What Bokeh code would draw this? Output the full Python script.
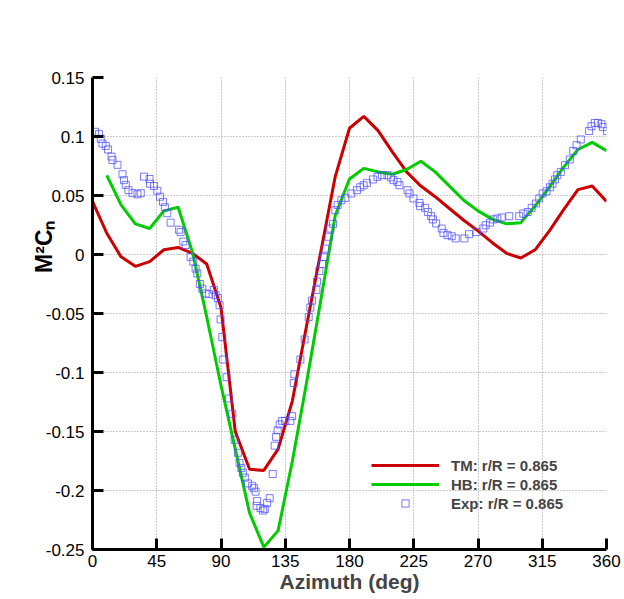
import math
from bokeh.plotting import figure
from bokeh.models import FixedTicker, Title
from bokeh.embed import file_html
from bokeh.resources import INLINE

# ---- data ----
tm_azimuth = [0, 10, 20, 30, 40, 50, 60, 70, 80, 90, 100, 110, 120, 130, 140, 150, 160, 170, 180,
              190, 200, 210, 220, 230, 240, 250, 260, 270, 280, 290, 300, 310, 320, 330, 340, 350, 360]
tm_m2cn = [0.045, 0.018, -0.002, -0.010, -0.006, 0.004, 0.006, 0.001, -0.008, -0.045, -0.150,
           -0.182, -0.183, -0.165, -0.124, -0.060, 0.003, 0.066, 0.107, 0.117, 0.105, 0.087, 0.070,
           0.058, 0.049, 0.039, 0.029, 0.020, 0.010, 0.001, -0.003, 0.004, 0.020, 0.038, 0.055,
           0.058, 0.045]

hb_azimuth = [10, 20, 30, 40, 50, 60, 70, 80, 90, 100, 110, 120, 130, 140, 150, 160, 170, 180,
              190, 200, 210, 220, 230, 240, 250, 260, 270, 280, 290, 300, 310, 320, 330, 340, 350, 360]
hb_m2cn = [0.067, 0.042, 0.026, 0.022, 0.037, 0.040, 0.002, -0.053, -0.111, -0.165, -0.219,
           -0.248, -0.234, -0.175, -0.108, -0.038, 0.033, 0.064, 0.073, 0.070, 0.068, 0.072,
           0.079, 0.070, 0.058, 0.046, 0.037, 0.030, 0.026, 0.027, 0.041, 0.057, 0.074, 0.089,
           0.095, 0.088]

exp_azimuth = [1.8, 4.6, 5.8, 7.0, 9.3, 10.9, 13.3, 14.0, 17.5, 21.0, 22.1, 23.3, 25.2, 28.0, 31.5,
               33.8, 36.1, 40.0, 40.3, 43.1, 45.4, 47.3, 49.4, 50.7, 52.4, 54.7, 60.5, 61.7, 63.6,
               65.2, 68.7, 70.6, 72.2, 73.4, 75.2, 76.9, 79.2, 81.5, 85.0, 86.2, 87.8, 89.0, 89.7,
               90.9, 91.6, 93.9, 95.5, 97.9, 99.5, 101.8, 103.0, 104.2, 105.3, 106.7, 108.8,
               111.8, 113.0, 114.2, 115.3, 114.9, 117.6, 119.5, 120.7, 122.3, 124.1, 126.2, 127.6,
               128.6, 129.7, 131.1, 132.8, 135.0, 138.6, 139.8, 141.0, 141.4, 145.6, 148.6, 151.4,
               152.6, 153.8, 156.8, 157.3, 158.9, 160.8, 161.9, 163.1, 165.4, 166.6, 168.5, 170.1,
               171.7, 174.3, 177.1, 181.3, 185.2, 187.5, 189.9, 192.2, 196.4, 199.6, 202.7, 206.6,
               209.0, 210.8, 213.6, 215.0, 220.6, 222.0, 224.8, 229.0, 229.5, 233.0, 234.9, 237.2,
               238.4, 240.7, 244.6, 245.8, 248.6, 251.6, 254.4, 260.5, 263.7, 269.1, 273.7, 275.4,
               278.4, 280.7, 283.5, 286.6, 291.9, 298.9, 301.7, 304.8, 307.6, 310.6, 312.9, 315.3,
               318.0, 320.4, 322.2, 323.9, 325.5, 328.0, 330.9, 334.3, 336.7, 339.0, 342.0, 347.8,
               349.5, 351.8, 354.1, 356.5, 357.6, 360.4]
exp_m2cn = [0.104, 0.102, 0.098, 0.094, 0.092, 0.089, 0.083, 0.080, 0.076, 0.068, 0.063, 0.059,
            0.0545, 0.052, 0.051, 0.052, 0.066, 0.064, 0.060, 0.058, 0.054, 0.049, 0.0446, 0.040,
            0.035, 0.027, 0.021, 0.019, 0.011, 0.008, -0.002, -0.006, -0.012, -0.016, -0.025,
            -0.029, -0.033, -0.0336, -0.030, -0.0345, -0.037, -0.043, -0.055, -0.070, -0.089,
            -0.104, -0.122, -0.135, -0.157, -0.168, -0.1766, -0.181, -0.185, -0.189, -0.194,
            -0.196, -0.198, -0.201, -0.209, -0.213, -0.215, -0.217, -0.2156, -0.2105, -0.2065,
            -0.186, -0.162, -0.1545, -0.149, -0.144, -0.141, -0.141, -0.141, -0.137, -0.109,
            -0.1015, -0.089, -0.072, -0.053, -0.045, -0.039, -0.030, -0.023, -0.014, -0.008,
            -0.002, 0.005, 0.015, 0.022, 0.026, 0.0375, 0.042, 0.046, 0.048, 0.0517, 0.0545,
            0.057, 0.0587, 0.0607, 0.0636, 0.0658, 0.0672, 0.0672, 0.0653, 0.063, 0.0615, 0.0587,
            0.0545, 0.0517, 0.0475, 0.0437, 0.041, 0.0395, 0.036, 0.0325, 0.0297, 0.0263, 0.022,
            0.0183, 0.0164, 0.0155, 0.0136, 0.0136, 0.0172, 0.019, 0.022, 0.0248, 0.027, 0.0297,
            0.0305, 0.0314, 0.0325, 0.0325, 0.0347, 0.036, 0.0395, 0.0432, 0.0475, 0.0517,
            0.0536, 0.057, 0.060, 0.0636, 0.0672, 0.070, 0.0757, 0.0805, 0.0878, 0.0926, 0.0975,
            0.1047, 0.1087, 0.1115, 0.1115, 0.1104, 0.108, 0.1045]

x_ticks = [0, 45, 90, 135, 180, 225, 270, 315, 360]
y_ticks = [-0.25, -0.2, -0.15, -0.1, -0.05, 0, 0.05, 0.1, 0.15]
y_tick_labels = ["-0.25", "-0.2", "-0.15", "-0.1", "-0.05", "0", "0.05", "0.1", "0.15"]

legend_tm = "TM: r/R = 0.865"
legend_hb = "HB: r/R = 0.865"
legend_exp = "Exp: r/R = 0.865"

FONT = "Liberation Sans"

p = figure(frame_width=514, frame_height=472, x_range=(0, 360), y_range=(-0.25, 0.15),
           output_backend="svg", toolbar_location=None,
           min_border_left=92, min_border_top=77, min_border_right=15, min_border_bottom=5)
p.outline_line_color = None
p.background_fill_color = "white"
p.border_fill_color = "white"

p.line(tm_azimuth, tm_m2cn, line_color="#cc0000", line_width=3, legend_label=legend_tm)
p.line(hb_azimuth, hb_m2cn, line_color="#00cc00", line_width=3, legend_label=legend_hb)
p.scatter(exp_azimuth, exp_m2cn, marker="square", size=7, fill_color=None,
          line_color="#4d4dff", line_alpha=0.75, line_width=1, legend_label=legend_exp)

for ax in (p.xaxis[0], p.yaxis[0]):
    ax.axis_line_width = 3
    ax.axis_line_color = "black"
    ax.major_tick_in = 11
    ax.major_tick_out = 0
    ax.minor_tick_in = 5
    ax.minor_tick_out = 0
    ax.major_tick_line_width = 3
    ax.minor_tick_line_width = 1.5
    ax.major_label_text_font = FONT
    ax.major_label_text_font_size = "17px"
    ax.major_label_text_color = "black"

p.xaxis.ticker = FixedTicker(ticks=x_ticks, num_minor_ticks=5)
p.yaxis.ticker = FixedTicker(ticks=y_ticks, num_minor_ticks=5)
p.yaxis.major_label_overrides = {v: s for v, s in zip(y_ticks, y_tick_labels)}
p.xaxis.major_label_standoff = 5
p.yaxis.major_label_standoff = 8

p.xaxis.axis_label = "Azimuth (deg)"
p.xaxis.axis_label_text_font = FONT
p.xaxis.axis_label_text_font_style = "bold"
p.xaxis.axis_label_text_font_size = "21px"
p.xaxis.axis_label_standoff = 0

ytitle = Title(text="M²Cₙ", align="right", vertical_align="bottom", offset=143, standoff=-28,
               text_font=FONT, text_font_style="bold", text_font_size="23px",
               text_color="black")
p.add_layout(ytitle, "left")

for g in (p.xgrid[0], p.ygrid[0]):
    g.grid_line_color = "#9a9a9a"
    g.grid_line_dash = "1 2"
    g.grid_line_width = 1

lg = p.legend[0]
lg.location = (279, 37)
lg.background_fill_alpha = 0
lg.border_line_color = None
lg.padding = 0
lg.margin = 0
lg.spacing = 1
lg.glyph_width = 68
lg.glyph_height = 18
lg.label_height = 18
lg.label_standoff = 12
lg.label_text_font = FONT
lg.label_text_font_style = "bold"
lg.label_text_font_size = "15px"

open("out.html", "w").write(file_html(p, INLINE))
